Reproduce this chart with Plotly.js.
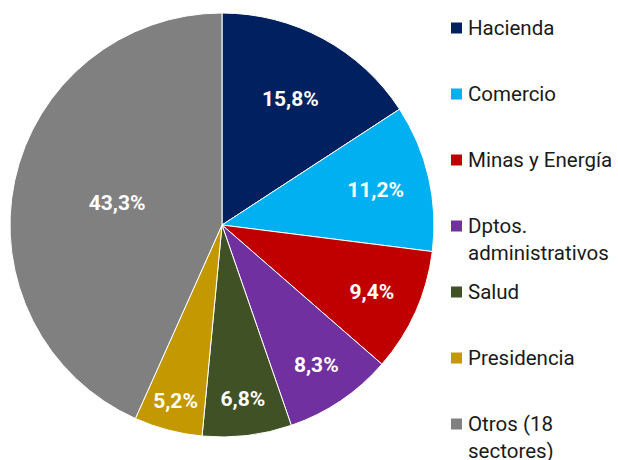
<!DOCTYPE html>
<html>
<head>
<meta charset="utf-8">
<script src="https://cdn.plot.ly/plotly-3.0.1.min.js"></script>
<style>html,body{margin:0;padding:0;background:#fff;}#chart{width:618px;height:460px;}</style>
</head>
<body>
<div id="chart"></div>
<script>
const categories = ["Hacienda", "Comercio", "Minas y Energía", "Dptos.<br>administrativos", "Salud", "Presidencia", "Otros (18<br>sectores)"];
const shares = [15.8, 11.2, 9.4, 8.3, 6.8, 5.2, 43.3];
const colors = ["#002060", "#00B0F0", "#C00000", "#7030A0", "#415126", "#C49800", "#808080"];

const W = 618, H = 460;
const FONT = "Roboto, 'Noto Sans', sans-serif";

const trace = {
  type: "pie",
  labels: categories,
  values: shares,
  sort: false,
  direction: "clockwise",
  rotation: 0,
  marker: {colors: colors, line: {color: "#ffffff", width: 1}},
  texttemplate: "%{percent:.1%}",
  textposition: "inside",
  insidetextorientation: "horizontal",
  textfont: {family: FONT, size: 21, color: "#ffffff", weight: "bold"},
  hoverinfo: "label+percent",
  showlegend: false,
  domain: {x: [10 / W, 434 / W], y: [1 - 437 / H, 1 - 13 / H]}
};

// legend drawn from the category and colour arrays
const shapes = [], annotations = [];
const top0 = 28, step = 66, sq = 11, sqX = 451, txtX = 467;
categories.forEach((c, i) => {
  const yc = top0 + i * step;
  shapes.push({type: "rect", xref: "paper", yref: "paper",
    x0: sqX / W, x1: (sqX + sq) / W, y0: 1 - (yc + sq / 2) / H, y1: 1 - (yc - sq / 2) / H,
    fillcolor: colors[i], line: {width: 0}});
  const lines = c.split("<br>").length;
  annotations.push({xref: "paper", yref: "paper", x: txtX / W, xanchor: "left",
    y: 1 - (yc + (lines - 1) * 13) / H, yanchor: "middle", align: "left",
    text: c, showarrow: false, borderpad: 0,
    font: {family: FONT, size: 20.5, color: "#1a1a1a"}});
});

const layout = {
  width: W, height: H,
  margin: {l: 0, r: 0, t: 0, b: 0},
  paper_bgcolor: "#ffffff",
  separators: ",.",
  showlegend: false,
  shapes: shapes,
  annotations: annotations
};

Plotly.newPlot("chart", [trace], layout, {displayModeBar: false, staticPlot: true});
</script>
</body>
</html>
